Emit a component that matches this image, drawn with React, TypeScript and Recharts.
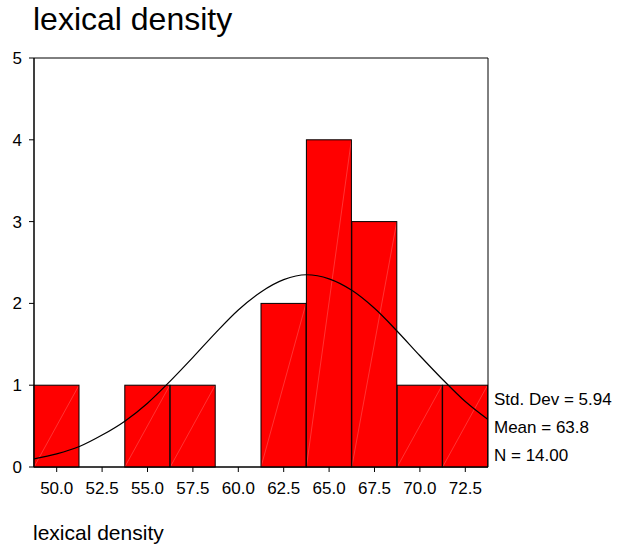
import React from 'react';
import {
  ComposedChart,
  Bar,
  Line,
  XAxis,
  YAxis,
  ReferenceArea
} from 'recharts';

// histogram bins (midpoints) and counts
const binLabels = ['50.0', '52.5', '55.0', '57.5', '60.0', '62.5', '65.0', '67.5', '70.0', '72.5'];
const binCounts = [1, 0, 1, 1, 0, 2, 4, 3, 1, 1];

// normal curve
const curveX = [48.75, 50, 51.25, 52.5, 53.75, 55, 56.25, 57.5, 58.75, 60, 61.25, 62.5, 63.75, 65, 66.25, 67.5, 68.75, 70, 71.25, 72.5, 73.75];
const curveY = [0.1, 0.16, 0.25, 0.39, 0.56, 0.78, 1.05, 1.34, 1.64, 1.92, 2.14, 2.29, 2.35, 2.3, 2.16, 1.94, 1.66, 1.36, 1.07, 0.8, 0.58];

const yTicks = [0, 1, 2, 3, 4, 5];
const statsLines = ['Std. Dev = 5.94', 'Mean = 63.8', 'N = 14.00'];

const barData = binLabels.map((label, i) => ({ label, count: binCounts[i] }));
const curveData = curveX.map((x, i) => ({ x, y: curveY[i] }));

const FONT = '"Liberation Sans", Arial, sans-serif';

// red bar with the faint white diagonal SPSS leaves in its fills
const HatchedBar = (props: any) => {
  const { x, y, width, height } = props;
  if (!height || height <= 0) return null;
  return (
    <g>
      <rect x={x} y={y} width={width} height={height} fill="#ff0000" />
      <line x1={x} y1={y + height} x2={x + width} y2={y} stroke="#ffffff" strokeOpacity={0.4} strokeWidth={0.5} />
      <rect x={x} y={y} width={width} height={height} fill="none" stroke="#000" strokeWidth={1} />
    </g>
  );
};

export default function App() {
  return (
    <div style={{ position: 'absolute', left: 0, top: 0, width: 620, height: 551, background: '#fff', fontFamily: FONT }}>
      <div style={{ position: 'absolute', left: 33, top: 1, fontSize: 32, color: '#000', whiteSpace: 'nowrap' }}>lexical density</div>
      <ComposedChart
        width={620}
        height={551}
        data={barData}
        margin={{ top: 58, right: 132, bottom: 54, left: 0 }}
        barCategoryGap={0}
        barGap={0}
      >
        <XAxis
          dataKey="label"
          xAxisId="cat"
          height={30}
          tickSize={5}
          tickMargin={10}
          axisLine={{ stroke: '#000' }}
          tickLine={{ stroke: '#000' }}
          tick={{ fill: '#000', fontSize: 17, fontFamily: FONT }}
          interval={0}
        />
        <XAxis
          xAxisId="num"
          dataKey="x"
          type="number"
          domain={[48.75, 73.75]}
          allowDataOverflow
          hide
        />
        <YAxis
          width={34}
          domain={[0, 5]}
          ticks={yTicks}
          tickSize={5}
          tickMargin={7}
          axisLine={{ stroke: '#000' }}
          tickLine={{ stroke: '#000' }}
          tick={{ fill: '#000', fontSize: 17, fontFamily: FONT }}
        />
        <Bar xAxisId="cat" dataKey="count" shape={<HatchedBar />} isAnimationActive={false} />
        <Line
          xAxisId="num"
          data={curveData}
          dataKey="y"
          type="monotone"
          stroke="#000"
          strokeWidth={1.2}
          dot={false}
          isAnimationActive={false}
        />
        <ReferenceArea xAxisId="num" x1={48.75} x2={73.75} y1={0} y2={5} fill="none" stroke="#000" strokeWidth={1} ifOverflow="visible" />
      </ComposedChart>
      {statsLines.map((s, i) => (
        <div key={s} style={{ position: 'absolute', left: 494, top: 390 + i * 28, fontSize: 17, color: '#000', whiteSpace: 'nowrap' }}>
          {s}
        </div>
      ))}
      <div style={{ position: 'absolute', left: 33, top: 521, fontSize: 21, color: '#000', whiteSpace: 'nowrap' }}>lexical density</div>
    </div>
  );
}
